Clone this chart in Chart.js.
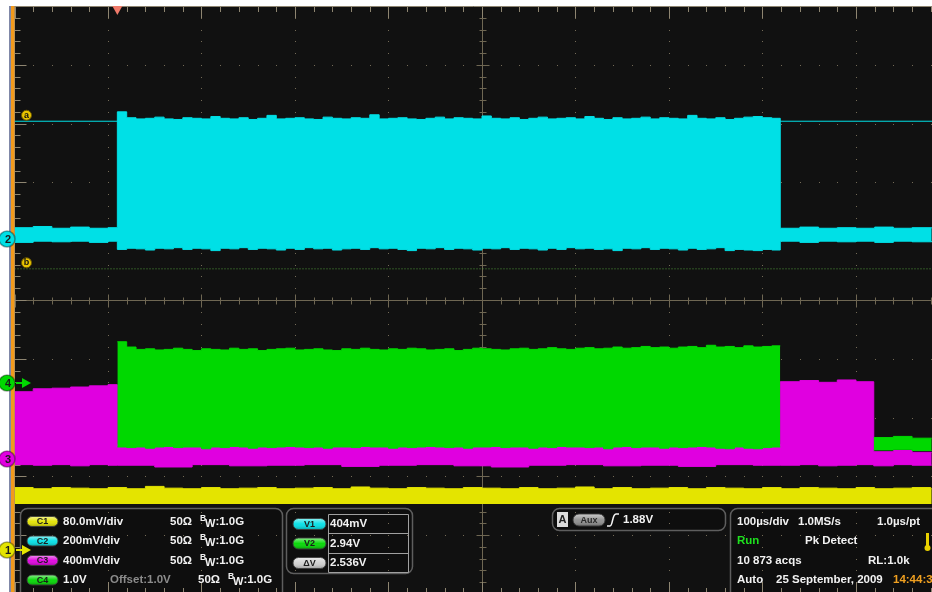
<!DOCTYPE html>
<html>
<head>
<meta charset="utf-8">
<script src="https://cdn.jsdelivr.net/npm/chart.js@4.4.1/dist/chart.umd.min.js"></script>
<style>
  html, body { margin: 0; padding: 0; background: #fff; overflow: hidden; }
  canvas { display: block; }
</style>
</head>
<body>
<canvas id="scope" width="932" height="592"></canvas>
<script>
// time in µs (100 µs/div), vertical in graticule divisions (0 = centre line)
const xMin = -500, xMax = 481.3;
const yMin = -4.966, yMax = 5;
const triggerTime = -390;

// burst sample times (shared by C2 and C4 envelopes)
const burstTime = [-390, -380, -370, -360, -350, -340, -330, -320, -310, -300,
  -290, -280, -270, -260, -250, -240, -230, -220, -210, -200,
  -190, -180, -170, -160, -150, -140, -130, -120, -110, -100,
  -90, -80, -70, -60, -50, -40, -30, -20, -10, 0,
  10, 20, 30, 40, 50, 60, 70, 80, 90, 100,
  110, 120, 130, 140, 150, 160, 170, 180, 190, 200,
  210, 220, 230, 240, 250, 260, 270, 280, 290, 300, 310];

// C2 (cyan) envelope: before / during / after the burst
const c2PreTime = [-500, -480, -460, -440, -420, -400];
const c2PreHi = [1.23, 1.25, 1.22, 1.24, 1.22, 1.23];
const c2PreLo = [0.98, 1.00, 0.99, 1.00, 0.98, 1.00];
const c2BurstHi = [3.20, 3.10, 3.08, 3.09, 3.11, 3.08, 3.07, 3.10, 3.09, 3.08,
  3.12, 3.09, 3.08, 3.10, 3.07, 3.09, 3.14, 3.08, 3.09, 3.10,
  3.08, 3.07, 3.11, 3.09, 3.08, 3.10, 3.09, 3.15, 3.08, 3.09,
  3.10, 3.08, 3.07, 3.09, 3.11, 3.08, 3.10, 3.09, 3.08, 3.13,
  3.09, 3.08, 3.10, 3.07, 3.09, 3.11, 3.08, 3.09, 3.10, 3.08,
  3.12, 3.09, 3.07, 3.10, 3.08, 3.09, 3.11, 3.08, 3.10, 3.09,
  3.08, 3.14, 3.09, 3.08, 3.10, 3.07, 3.09, 3.11, 3.12, 3.10, 3.09];
const c2BurstLo = [0.86, 0.88, 0.87, 0.85, 0.88, 0.87, 0.89, 0.86, 0.88, 0.87,
  0.84, 0.88, 0.87, 0.89, 0.86, 0.88, 0.87, 0.85, 0.88, 0.86,
  0.89, 0.87, 0.88, 0.85, 0.87, 0.88, 0.86, 0.89, 0.87, 0.88,
  0.86, 0.84, 0.88, 0.87, 0.89, 0.86, 0.88, 0.87, 0.85, 0.88,
  0.87, 0.89, 0.86, 0.88, 0.87, 0.85, 0.88, 0.86, 0.89, 0.87,
  0.88, 0.86, 0.87, 0.84, 0.88, 0.87, 0.89, 0.86, 0.88, 0.87,
  0.85, 0.88, 0.86, 0.87, 0.89, 0.84, 0.86, 0.85, 0.84, 0.86, 0.85];
const c2PostTime = [319, 340, 360, 380, 400, 420, 440, 460, 481];
const c2PostHi = [1.22, 1.24, 1.22, 1.23, 1.22, 1.24, 1.22, 1.23, 1.22];
const c2PostLo = [1.00, 0.98, 1.00, 0.99, 1.00, 0.98, 1.00, 0.99, 1.00];

// C3 (magenta) envelope
const c3Time = [-500, -480, -460, -440, -420, -400,
  -390, -350, -310, -270, -230, -190, -150, -110, -70, -30, 10, 50, 90, 130, 170, 210, 250, 290,
  319, 340, 360, 380, 400,
  419, 440, 460, 481];
const c3Hi = [-1.56, -1.51, -1.50, -1.48, -1.46, -1.44,
  -2.45, -2.45, -2.45, -2.45, -2.45, -2.45, -2.45, -2.45, -2.45, -2.45, -2.45, -2.45, -2.45, -2.45, -2.45, -2.45, -2.45, -2.45,
  -1.39, -1.37, -1.40, -1.36, -1.39,
  -2.58, -2.56, -2.59, -2.59];
const c3Lo = [-2.80, -2.81, -2.80, -2.82, -2.80, -2.81,
  -2.81, -2.84, -2.80, -2.82, -2.81, -2.80, -2.83, -2.81, -2.80, -2.82, -2.84, -2.81, -2.80, -2.82, -2.81, -2.83, -2.80, -2.81,
  -2.81, -2.80, -2.82, -2.81, -2.80,
  -2.82, -2.80, -2.81, -2.81];

// C4 (green) burst (burstTime + end at 319 µs) and tail
const c4BurstEnd = 319;
const c4Hi = [-0.71, -0.80, -0.84, -0.83, -0.85, -0.84, -0.82, -0.84, -0.86, -0.83,
  -0.84, -0.85, -0.82, -0.84, -0.83, -0.86, -0.84, -0.83, -0.82, -0.85,
  -0.84, -0.83, -0.85, -0.86, -0.83, -0.84, -0.82, -0.84, -0.85, -0.83,
  -0.84, -0.82, -0.83, -0.85, -0.84, -0.83, -0.86, -0.84, -0.82, -0.83,
  -0.84, -0.85, -0.83, -0.82, -0.84, -0.83, -0.81, -0.83, -0.84, -0.82,
  -0.81, -0.83, -0.82, -0.80, -0.82, -0.81, -0.79, -0.81, -0.80, -0.82,
  -0.80, -0.79, -0.81, -0.77, -0.80, -0.79, -0.81, -0.78, -0.80, -0.79, -0.78, -0.78];
const c4Lo = [-2.50, -2.51, -2.50, -2.52, -2.50, -2.49, -2.51, -2.50, -2.50, -2.53,
  -2.50, -2.51, -2.49, -2.50, -2.52, -2.50, -2.51, -2.50, -2.49, -2.50,
  -2.51, -2.50, -2.52, -2.50, -2.50, -2.51, -2.49, -2.50, -2.50, -2.52,
  -2.50, -2.51, -2.50, -2.49, -2.50, -2.51, -2.50, -2.52, -2.50, -2.50,
  -2.49, -2.51, -2.50, -2.50, -2.52, -2.50, -2.51, -2.49, -2.50, -2.50,
  -2.51, -2.50, -2.53, -2.50, -2.49, -2.51, -2.50, -2.50, -2.52, -2.50,
  -2.51, -2.50, -2.49, -2.50, -2.52, -2.53, -2.50, -2.52, -2.53, -2.51, -2.50, -2.50];
const c4TailTime = [419, 440, 460, 481];
const c4TailHi = [-2.34, -2.32, -2.35, -2.35];
const c4TailLo = [-2.55, -2.54, -2.56, -2.56];

// C1 (yellow) top edge, filled down to c1Bottom
const c1Time = [-500, -480, -460, -440, -420, -400, -380, -360, -340, -320,
  -300, -280, -260, -240, -220, -200, -180, -160, -140, -120,
  -100, -80, -60, -40, -20, 0, 20, 40, 60, 80,
  100, 120, 140, 160, 180, 200, 220, 240, 260, 280,
  300, 320, 340, 360, 380, 400, 420, 440, 460, 480, 481];
const c1Hi = [-3.19, -3.21, -3.19, -3.20, -3.21, -3.19, -3.21, -3.17, -3.20, -3.21,
  -3.19, -3.21, -3.20, -3.19, -3.21, -3.20, -3.19, -3.21, -3.18, -3.20,
  -3.21, -3.19, -3.20, -3.21, -3.19, -3.20, -3.21, -3.19, -3.21, -3.20,
  -3.18, -3.21, -3.19, -3.21, -3.20, -3.19, -3.21, -3.19, -3.20, -3.21,
  -3.19, -3.21, -3.19, -3.20, -3.21, -3.19, -3.21, -3.20, -3.19, -3.21, -3.21];
const c1Bottom = -3.47;

// cursors a / b
const cursorA = 3.04;
const cursorB = 0.53;

const chanRows = [
  ['C1', '80.0mV/div', '50Ω', '1.0G'],
  ['C2', '200mV/div', '50Ω', '1.0G'],
  ['C3', '400mV/div', '50Ω', '1.0G'],
  ['C4', '1.0V', '50Ω', '1.0G']
];
const cursorRows = [['V1', '404mV'], ['V2', '2.94V'], ['ΔV', '2.536V']];

const COL = { c1: '#e4e400', c2: '#00e0e6', c3: '#e000e0', c4: '#00d800' };
const FONT = '"Liberation Sans", Arial, sans-serif';

function pts(time, vals) {
  return time.map((t, i) => ({ x: t, y: vals[i] }));
}
function band(time, hi, lo, color) {
  return [
    { data: pts(time, lo), borderColor: color, borderWidth: 1, fill: false },
    { data: pts(time, hi), borderColor: color, backgroundColor: color, borderWidth: 1, fill: '-1' }
  ];
}

const c2Time = [...c2PreTime, ...burstTime, ...c2PostTime];
const c2Hi = [...c2PreHi, ...c2BurstHi, ...c2PostHi];
const c2Lo = [...c2PreLo, ...c2BurstLo, ...c2PostLo];
const c4Time = [...burstTime, c4BurstEnd];

function rrect(ctx, x, y, w, h, r) {
  ctx.beginPath();
  ctx.moveTo(x + r, y);
  ctx.lineTo(x + w - r, y);
  ctx.arcTo(x + w, y, x + w, y + r, r);
  ctx.lineTo(x + w, y + h - r);
  ctx.arcTo(x + w, y + h, x + w - r, y + h, r);
  ctx.lineTo(x + r, y + h);
  ctx.arcTo(x, y + h, x, y + h - r, r);
  ctx.lineTo(x, y + r);
  ctx.arcTo(x, y, x + r, y, r);
  ctx.closePath();
}

function drawGraticule(ctx, chart) {
  const { left, top, right } = chart.chartArea;
  const xs = chart.scales.x, ys = chart.scales.y;
  const px = v => Math.round(xs.getPixelForValue(v));
  const py = v => Math.round(ys.getPixelForValue(v));
  ctx.save();
  ctx.fillStyle = '#746b57';
  for (let t = -400; t <= 400; t += 100) {
    if (t === 0) continue;
    for (let k = -25; k <= 25; k++) ctx.fillRect(px(t), py(k / 5), 1, 1);
  }
  for (let d = -4; d <= 4; d++) {
    if (d === 0) continue;
    for (let k = -25; k <= 25; k++) ctx.fillRect(px(k * 20), py(d), 1, 1);
  }
  ctx.strokeStyle = '#6f6753';
  ctx.lineWidth = 1;
  ctx.beginPath();
  const cx = px(0) + 0.5, cy = py(0) + 0.5;
  ctx.moveTo(cx, top); ctx.lineTo(cx, py(-5));
  ctx.moveTo(left, cy); ctx.lineTo(right, cy);
  for (let k = -25; k <= 25; k++) {
    const l = k % 5 === 0 ? 6 : 3;
    const yy = py(k / 5) + 0.5;
    ctx.moveTo(cx - l, yy); ctx.lineTo(cx + l + 1, yy);
    const xx = px(k * 20) + 0.5;
    ctx.moveTo(xx, cy - l); ctx.lineTo(xx, cy + l + 1);
  }
  ctx.stroke();
  // outer border with ticks
  ctx.strokeStyle = '#8e8571';
  ctx.beginPath();
  ctx.moveTo(left, top + 0.5); ctx.lineTo(right, top + 0.5);
  for (let k = -25; k <= 25; k++) {
    const l = k % 5 === 0 ? 12 : 6;
    const xx = px(k * 20) + 0.5;
    ctx.moveTo(xx, top); ctx.lineTo(xx, top + l);
    const yb = py(-5);
    ctx.moveTo(xx, yb); ctx.lineTo(xx, yb - l);
    const yy = py(k / 5) + 0.5;
    ctx.moveTo(left, yy); ctx.lineTo(left + l, yy);
  }
  ctx.stroke();
  ctx.restore();
}

function pill(ctx, x, y, w, h, color, label, textColor) {
  ctx.save();
  rrect(ctx, x, y, w, h, h / 2);
  ctx.fillStyle = color;
  ctx.fill();
  const g = ctx.createLinearGradient(0, y, 0, y + h);
  g.addColorStop(0, 'rgba(255,255,255,0.55)');
  g.addColorStop(0.5, 'rgba(255,255,255,0.05)');
  g.addColorStop(1, 'rgba(0,0,0,0.25)');
  ctx.fillStyle = g;
  ctx.fill();
  ctx.strokeStyle = 'rgba(60,60,60,0.9)';
  ctx.lineWidth = 1;
  ctx.stroke();
  ctx.fillStyle = textColor || '#1c1c1c';
  ctx.font = 'bold 9px ' + FONT;
  ctx.textAlign = 'center';
  ctx.textBaseline = 'middle';
  ctx.fillText(label, x + w / 2, y + h / 2 + 0.5);
  ctx.restore();
}

function txt(ctx, s, x, y, color, size) {
  ctx.fillStyle = color || '#f2f2f2';
  ctx.font = 'bold ' + (size || 11.5) + 'px ' + FONT;
  ctx.textAlign = 'left';
  ctx.textBaseline = 'middle';
  ctx.fillText(s, x, y);
  return ctx.measureText(s).width;
}

function bw(ctx, x, y, value) {
  txt(ctx, 'B', x, y - 3, '#f2f2f2', 8.5);
  const w = txt(ctx, 'W', x + 5, y + 2, '#f2f2f2', 11);
  txt(ctx, ':' + value, x + 5 + w, y, '#f2f2f2', 11.5);
}

function tag(ctx, x, y, color, label, arrow) {
  ctx.save();
  if (arrow) {
    ctx.fillStyle = color;
    ctx.fillRect(x + 9, y - 1, 8, 2);
    ctx.beginPath();
    ctx.moveTo(x + 15, y - 5); ctx.lineTo(x + 24, y); ctx.lineTo(x + 15, y + 5);
    ctx.closePath();
    ctx.fill();
  }
  ctx.beginPath();
  ctx.arc(x, y, 8, 0, Math.PI * 2);
  ctx.fillStyle = color;
  ctx.fill();
  ctx.strokeStyle = 'rgba(0,0,0,0.35)';
  ctx.stroke();
  ctx.fillStyle = '#1a1a1a';
  ctx.font = 'bold 11px ' + FONT;
  ctx.textAlign = 'center';
  ctx.textBaseline = 'middle';
  ctx.fillText(label, x + 1, y + 0.5);
  ctx.restore();
}

function cursorLabel(ctx, x, y, label) {
  ctx.save();
  ctx.beginPath();
  ctx.arc(x, y, 5, 0, Math.PI * 2);
  ctx.fillStyle = '#e8c400';
  ctx.fill();
  ctx.strokeStyle = '#6a5600';
  ctx.stroke();
  ctx.fillStyle = '#111';
  ctx.font = 'bold 9px ' + FONT;
  ctx.textAlign = 'center';
  ctx.textBaseline = 'middle';
  ctx.fillText(label, x, y);
  ctx.restore();
}

const boxes = [
  { x: 20, y: 508, w: 262, h: 100 },
  { x: 286, y: 508, w: 126, h: 65 },
  { x: 552, y: 508, w: 173, h: 22 },
  { x: 730, y: 508, w: 230, h: 100 }
];

const scopeDecor = {
  id: 'scopeDecor',
  beforeDraw(chart) {
    const { ctx, chartArea: a } = chart;
    ctx.save();
    ctx.fillStyle = '#ffffff';
    ctx.fillRect(0, 0, chart.width, chart.height);
    ctx.fillStyle = '#111111';
    ctx.fillRect(a.left, a.top, a.right - a.left, a.bottom - a.top);
    ctx.restore();
    drawGraticule(ctx, chart);
  },
  afterDraw(chart) {
    const { ctx, chartArea: a, scales: { x: xs, y: ys } } = chart;
    ctx.save();
    // left edge strips
    ctx.fillStyle = '#8088a8';
    ctx.fillRect(9, a.top, 2, a.bottom - a.top);
    ctx.fillStyle = '#f29a1c';
    ctx.fillRect(11, a.top, 3.5, a.bottom - a.top);

    // trigger position marker
    const tx = xs.getPixelForValue(triggerTime);
    ctx.fillStyle = '#f07a6a';
    ctx.beginPath();
    ctx.moveTo(tx - 5, a.top); ctx.lineTo(tx + 5, a.top); ctx.lineTo(tx, a.top + 9);
    ctx.closePath();
    ctx.fill();

    cursorLabel(ctx, 26.5, ys.getPixelForValue(cursorA) - 6, 'a');
    cursorLabel(ctx, 26.5, ys.getPixelForValue(cursorB) - 6, 'b');

    // readout panel
    boxes.forEach(b => {
      rrect(ctx, b.x, b.y, b.w, b.h, 7);
      ctx.fillStyle = '#0e0e0e';
      ctx.fill();
    });
    ctx.save();
    ctx.beginPath();
    boxes.forEach(b => ctx.rect(b.x, b.y, b.w, b.h));
    ctx.clip();
    drawGraticule(ctx, chart);
    ctx.restore();
    boxes.forEach(b => {
      rrect(ctx, b.x + 0.5, b.y + 0.5, b.w, b.h, 7);
      ctx.strokeStyle = '#5e5e5e';
      ctx.lineWidth = 1.5;
      ctx.stroke();
    });

    const rowY = [521.5, 541, 560.5, 580];
    const pillCol = [COL.c1, COL.c2, COL.c3, COL.c4];
    chanRows.forEach((r, i) => {
      pill(ctx, 27, rowY[i] - 5, 31, 10, pillCol[i], r[0]);
      txt(ctx, r[1], 63, rowY[i]);
      if (i < 3) {
        txt(ctx, r[2], 170, rowY[i]);
        bw(ctx, 200, rowY[i], r[3]);
      } else {
        txt(ctx, 'Offset:1.0V', 110, rowY[i], '#8c8c8c');
        txt(ctx, r[2], 198, rowY[i]);
        bw(ctx, 228, rowY[i], r[3]);
      }
    });

    // cursor readout table
    ctx.strokeStyle = '#a0a0a0';
    ctx.lineWidth = 1;
    ctx.beginPath();
    ctx.rect(328.5, 514.5, 80, 58);
    ctx.moveTo(328.5, 533.5); ctx.lineTo(408.5, 533.5);
    ctx.moveTo(328.5, 553.5); ctx.lineTo(408.5, 553.5);
    ctx.stroke();
    const vCol = [COL.c2, COL.c4, '#cfcfcf'];
    cursorRows.forEach((r, i) => {
      const cy = 524 + i * 19.5;
      pill(ctx, 293, cy - 5.5, 33, 11, vCol[i], r[0]);
      txt(ctx, r[1], 330, cy);
    });

    // trigger box
    ctx.fillStyle = '#dcdcdc';
    ctx.fillRect(557, 512, 11, 15);
    ctx.fillStyle = '#222';
    ctx.font = 'bold 11px ' + FONT;
    ctx.textAlign = 'center';
    ctx.textBaseline = 'middle';
    ctx.fillText('A', 562.5, 520);
    pill(ctx, 573, 514, 32, 12, '#8e8e8e', 'Aux', '#2a2a2a');
    ctx.strokeStyle = '#f2f2f2';
    ctx.lineWidth = 1.6;
    ctx.beginPath();
    ctx.moveTo(607, 526); ctx.lineTo(610, 526);
    ctx.bezierCurveTo(613, 526, 612, 514, 616, 514);
    ctx.lineTo(619, 514);
    ctx.stroke();
    txt(ctx, '1.88V', 623, 520);

    // acquisition box
    txt(ctx, '100µs/div', 737, 521.5);
    txt(ctx, '1.0MS/s', 798, 521.5);
    txt(ctx, '1.0µs/pt', 877, 521.5);
    txt(ctx, 'Run', 737, 541, '#1ee01e');
    txt(ctx, 'Pk Detect', 805, 541);
    txt(ctx, '10 873 acqs', 737, 560.5);
    txt(ctx, 'RL:1.0k', 868, 560.5);
    txt(ctx, 'Auto', 737, 580);
    txt(ctx, '25 September, 2009', 776, 580);
    txt(ctx, '14:44:3', 893, 580, '#f0a020');
    ctx.fillStyle = '#e8d000';
    ctx.fillRect(926, 533, 3, 13);
    ctx.beginPath();
    ctx.arc(927.5, 548, 3, 0, Math.PI * 2);
    ctx.fill();

    // channel ground markers
    tag(ctx, 7, 239, COL.c2, '2');
    tag(ctx, 7, 383, COL.c4, '4', true);
    tag(ctx, 7, 459, COL.c3, '3');
    tag(ctx, 7, 550, COL.c1, '1', true);
    ctx.restore();
  }
};

const datasets = [
  ...band(c4Time, c4Hi, c4Lo, COL.c4),
  ...band(c4TailTime, c4TailHi, c4TailLo, COL.c4),
  ...band(c3Time, c3Hi, c3Lo, COL.c3),
  ...band(c2Time, c2Hi, c2Lo, COL.c2),
  { data: pts(c1Time, c1Hi), borderColor: COL.c1, backgroundColor: COL.c1, borderWidth: 1, fill: { value: c1Bottom } },
  { data: [{ x: xMin, y: cursorA }, { x: xMax, y: cursorA }], borderColor: COL.c2, borderWidth: 1, fill: false },
  { data: [{ x: xMin, y: cursorB }, { x: xMax, y: cursorB }], borderColor: '#4f9a3a', borderWidth: 1, borderDash: [1, 2], fill: false }
];

new Chart(document.getElementById('scope').getContext('2d'), {
  type: 'line',
  data: { datasets },
  options: {
    responsive: false,
    animation: false,
    layout: { padding: { left: 14.5, top: 6, right: 0, bottom: 0 } },
    elements: { point: { radius: 0 }, line: { stepped: true, tension: 0 } },
    scales: {
      x: { type: 'linear', min: xMin, max: xMax, display: false },
      y: { type: 'linear', min: yMin, max: yMax, display: false }
    },
    plugins: { legend: { display: false }, tooltip: { enabled: false } }
  },
  plugins: [scopeDecor]
});
</script>
</body>
</html>
